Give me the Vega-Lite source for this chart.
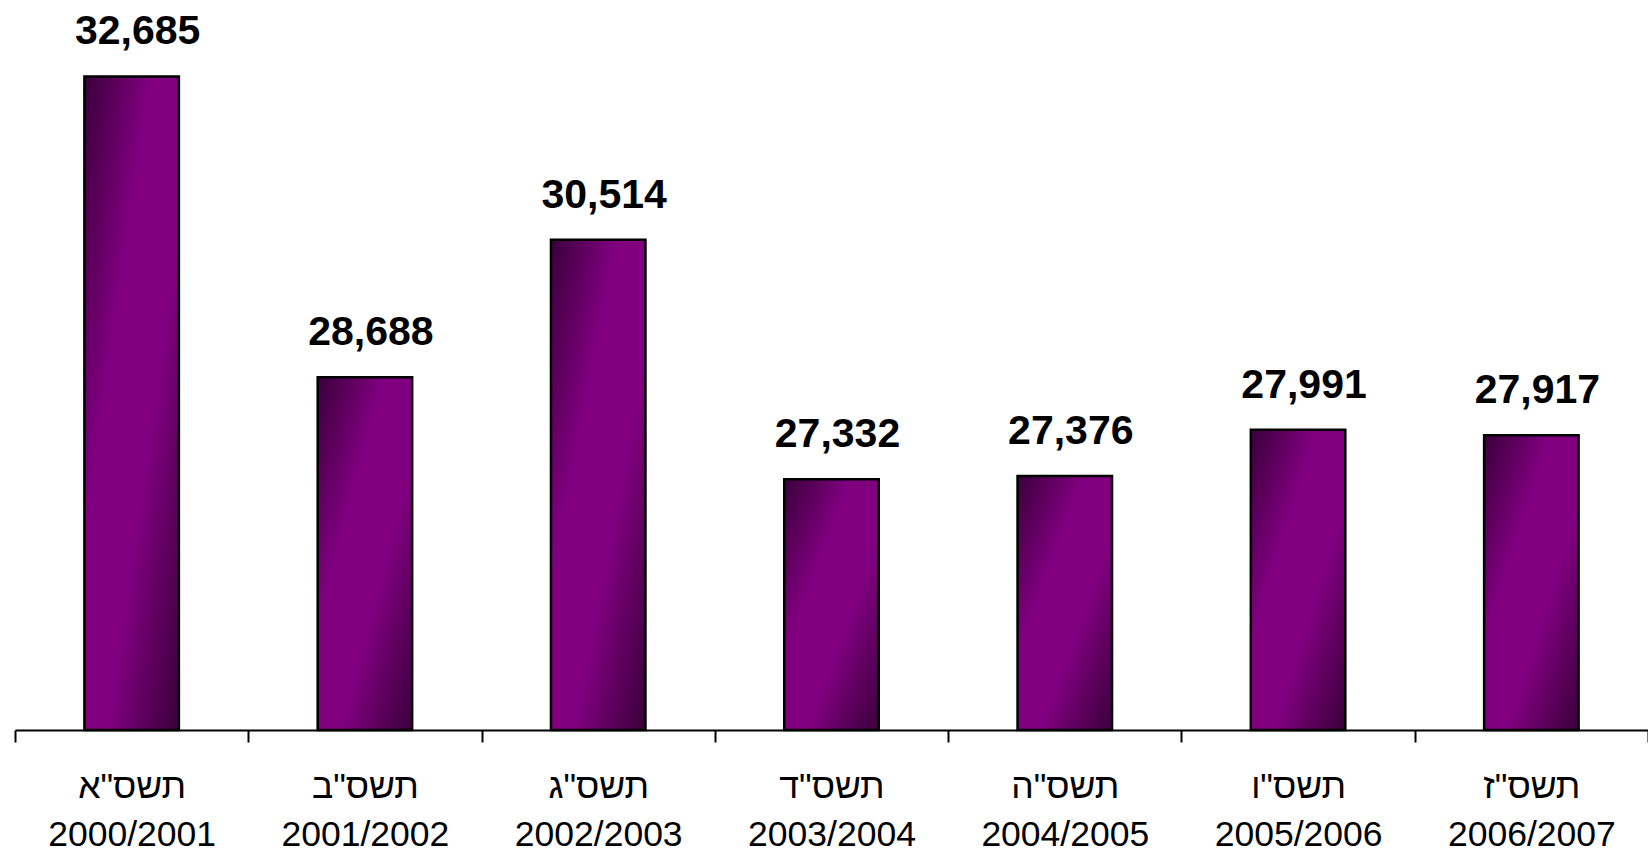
{
  "$schema": "https://vega.github.io/schema/vega-lite/v6.json",
  "width": 1633,
  "height": 730,
  "autosize": {"type": "none"},
  "padding": {"left": 15, "top": 0, "right": 0, "bottom": 121},
  "background": "white",
  "config": {"view": {"stroke": null}},
  "data": {
    "values": [
      {"label": "תשס\"א|2000/2001", "value": 32685},
      {"label": "תשס\"ב|2001/2002", "value": 28688},
      {"label": "תשס\"ג|2002/2003", "value": 30514},
      {"label": "תשס\"ד|2003/2004", "value": 27332},
      {"label": "תשס\"ה|2004/2005", "value": 27376},
      {"label": "תשס\"ו|2005/2006", "value": 27991},
      {"label": "תשס\"ז|2006/2007", "value": 27917}
    ]
  },
  "encoding": {
    "x": {
      "field": "label",
      "type": "nominal",
      "sort": null,
      "scale": {"paddingInner": 0, "paddingOuter": 0},
      "axis": {
        "title": null,
        "orient": "bottom",
        "labelAngle": 0,
        "domainColor": "black",
        "domainWidth": 2,
        "tickColor": "black",
        "tickWidth": 2,
        "tickSize": 12,
        "tickBand": "extent",
        "labelExpr": "split(datum.label, '|')",
        "labelFont": "Liberation Sans",
        "labelFontSize": 35.5,
        "labelColor": "black",
        "labelLineHeight": 48,
        "labelBaseline": "alphabetic",
        "labelPadding": 55,
        "labelOverlap": false,
        "labelBound": false,
        "labelLimit": 400
      }
    },
    "y": {
      "field": "value",
      "type": "quantitative",
      "scale": {"domain": [24000, 33700], "zero": false, "nice": false},
      "axis": null
    }
  },
  "layer": [
    {
      "mark": {
        "type": "bar",
        "width": {"band": 0.405},
        "fill": {
          "gradient": "linear",
          "x1": 0, "y1": 0, "x2": 1, "y2": 1,
          "stops": [
            {"offset": 0, "color": "#3a003a"},
            {"offset": 0.35, "color": "#800080"},
            {"offset": 0.62, "color": "#800080"},
            {"offset": 1, "color": "#3a003a"}
          ]
        },
        "stroke": "black",
        "strokeWidth": 2.5
      },
      "encoding": {"y2": {"datum": 24000}}
    },
    {
      "mark": {
        "type": "text",
        "dx": 6,
        "dy": -32,
        "baseline": "alphabetic",
        "font": "Liberation Sans",
        "fontWeight": "bold",
        "fontSize": 41,
        "color": "black"
      },
      "encoding": {"text": {"field": "value", "type": "quantitative", "format": ","}}
    }
  ]
}
